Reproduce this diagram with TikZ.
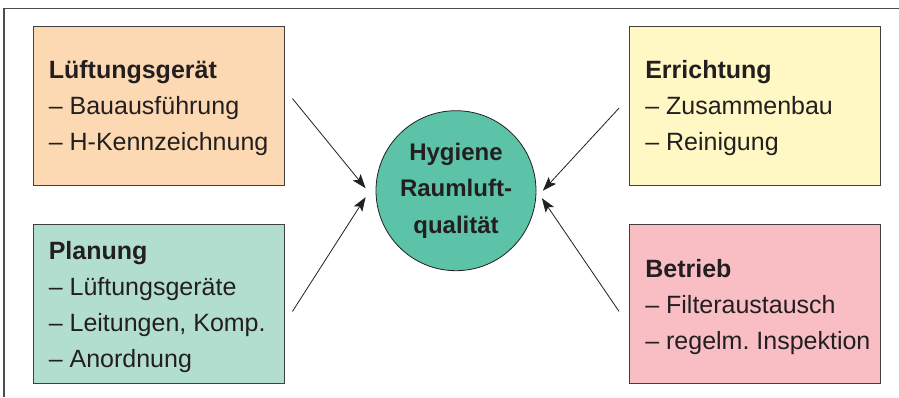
\documentclass[tikz,border=0pt]{standalone}
\usepackage{fontspec}
\setmainfont{Liberation Sans}
\usetikzlibrary{arrows.meta}
\frenchspacing

\definecolor{lgcol}{RGB}{252,217,178}
\definecolor{plcol}{RGB}{178,222,208}
\definecolor{ercol}{RGB}{255,248,196}
\definecolor{becol}{RGB}{248,190,196}
\definecolor{hycol}{RGB}{92,194,168}
\definecolor{textcol}{RGB}{35,31,32}

\begin{document}
\begin{tikzpicture}[x=1pt,y=-1pt,
    box/.style={draw=black!75, line width=0.8pt, minimum width=251pt,
      minimum height=159pt, inner sep=0pt},
    boxtext/.style={anchor=west, xshift=16pt, yshift=-3pt, inner sep=0pt,
      align=left, text=textcol, font=\fontsize{25}{36}\selectfont},
    pfeil/.style={-{Stealth[length=14pt,width=10pt,inset=3pt]},
      line width=0.8pt, textcol}]
        \useasboundingbox (0,0) rectangle (899,397);

        % frame (open at right and bottom)
        \draw [line width=1.2pt, black!70] (4,397) -- (4,8.5) -- (899,8.5);

        \node [box, fill=lgcol] (lg) at (158.5,105.5) {};
        \node [boxtext] (lgtext) at (lg.west)
          {\textbf{Lüftungsgerät}\\– Bauausführung\\– H-Kennzeichnung};

        \node [box, fill=plcol] (pl) at (158.5,304) {};
        \node [boxtext] (pltext) at (pl.west)
          {\textbf{Planung}\\– Lüftungsgeräte\\– Leitungen, Komp.\\– Anordnung};

        \node [box, fill=ercol] (er) at (755,105.5) {};
        \node [boxtext] (ertext) at (er.west)
          {\textbf{Errichtung}\\– Zusammenbau\\– Reinigung};

        \node [box, fill=becol] (be) at (755,304) {};
        \node [boxtext] (betext) at (be.west)
          {\textbf{Betrieb}\\– Filteraustausch\\– regelm. Inspektion};

        \node [circle, draw=textcol, line width=0.8pt, fill=hycol,
          minimum size=160pt, inner sep=0pt, align=center, text=textcol,
          font=\bfseries\fontsize{24}{36.5}\selectfont] (hy) at (456,190.7)
          {Hygiene\\Raumluft-\\qualität};

        \draw [pfeil] ([xshift=8pt,yshift=7pt]lg.east) -- ([xshift=-10pt,yshift=2.5pt]hy.west);
        \draw [pfeil] ([xshift=8pt,yshift=-7.5pt]pl.east) -- ([xshift=-10pt,yshift=-6.5pt]hy.west);
        \draw [pfeil] ([xshift=-10pt,yshift=-2.5pt]er.west) -- ([xshift=6.5pt]hy.east);
        \draw [pfeil] ([xshift=-10pt,yshift=-7.5pt]be.west) -- ([xshift=5.5pt,yshift=-7.5pt]hy.east);
    \end{tikzpicture}
\end{document}
